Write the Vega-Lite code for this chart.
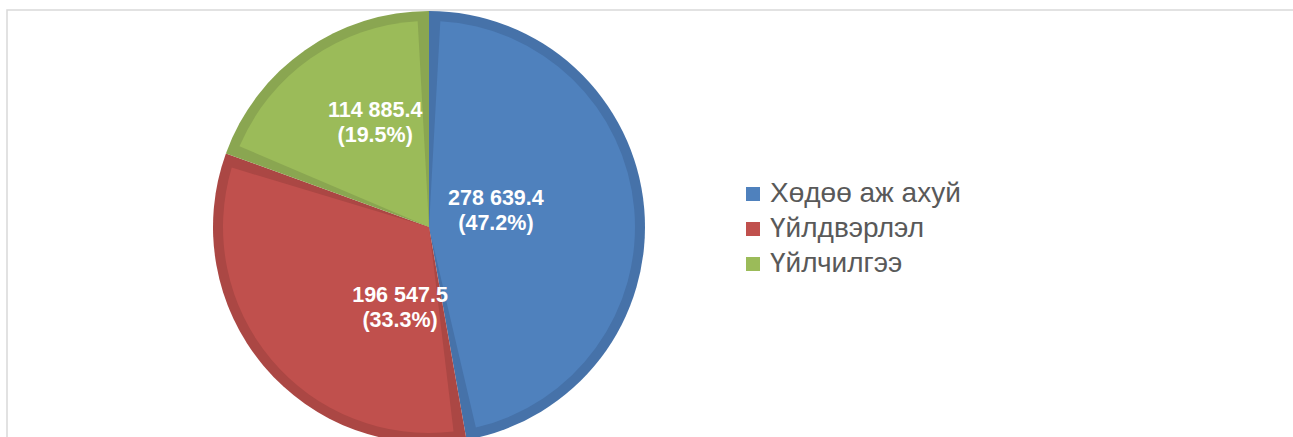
{
  "$schema": "https://vega.github.io/schema/vega-lite/v6.json",
  "width": 1400,
  "height": 460,
  "padding": {"left": 7, "top": 10, "right": 0, "bottom": 0},
  "autosize": {"type": "none"},
  "background": "white",
  "view": {"stroke": "#d9d9d9", "strokeWidth": 1.5},
  "config": {
    "font": "Liberation Sans"
  },
  "data": {
    "values": [
      {"sector": "Хөдөө аж ахуй", "value": 278639.4, "valueLabel": "278 639.4", "pctLabel": "(47.2%)", "k": 1},
      {"sector": "Үйлдвэрлэл", "value": 196547.5, "valueLabel": "196 547.5", "pctLabel": "(33.3%)", "k": 2},
      {"sector": "Үйлчилгээ", "value": 114885.4, "valueLabel": "114 885.4", "pctLabel": "(19.5%)", "k": 3}
    ]
  },
  "encoding": {
    "theta": {"field": "value", "type": "quantitative", "stack": true},
    "order": {"field": "k", "type": "quantitative"}
  },
  "layer": [
    {
      "mark": {"type": "arc", "radius": 216, "x": 422, "y": 217},
      "encoding": {
        "fill": {
          "field": "k", "type": "nominal",
          "scale": {"domain": [1, 2, 3], "range": ["#4672A9", "#AB4744", "#8AA651"]},
          "legend": null
        }
      }
    },
    {
      "mark": {"type": "arc", "radius": 206, "padAngle": 0.11, "x": 422, "y": 217},
      "encoding": {
        "fill": {
          "field": "sector", "type": "nominal",
          "scale": {"domain": ["Хөдөө аж ахуй", "Үйлдвэрлэл", "Үйлчилгээ"], "range": ["#4F81BD", "#C0504D", "#9BBB59"]},
          "legend": {
            "title": null, "orient": "none", "legendX": 732, "legendY": 170,
            "symbolType": "square", "symbolSize": 196, "symbolStrokeWidth": 0,
            "labelFontSize": 28, "labelFont": "Liberation Sans", "labelColor": "#595959",
            "labelLimit": 0, "rowPadding": 7, "labelOffset": 3, "padding": 0
          }
        }
      }
    },
    {
      "transform": [{"calculate": "[datum.valueLabel, datum.pctLabel]", "as": "lines"}],
      "mark": {
        "type": "text", "x": 422, "y": 206,
        "radius": {"expr": "datum.k == 1 ? 69 : datum.k == 2 ? 85 : 118"},
        "thetaOffset": {"expr": "datum.k == 1 ? -0.16 : datum.k == 2 ? -0.524 : 0.138"},
        "font": "Liberation Sans", "fontWeight": "bold", "fontSize": 21.5, "lineHeight": 25,
        "color": "white", "align": "center", "baseline": "middle"
      },
      "encoding": {
        "text": {"field": "lines"}
      }
    }
  ],
  "resolve": {"scale": {"fill": "independent"}}
}
